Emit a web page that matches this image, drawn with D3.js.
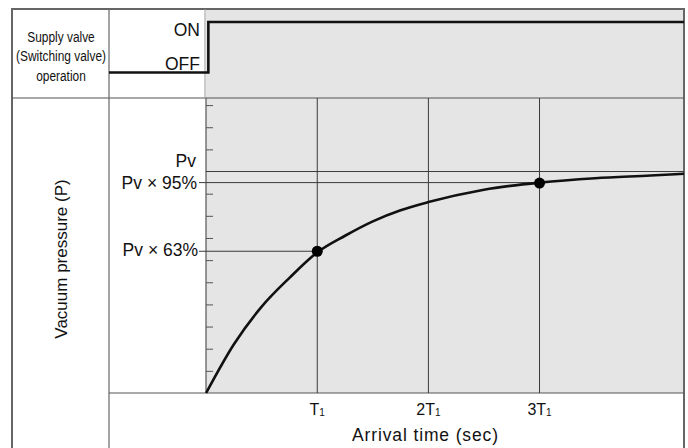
<!DOCTYPE html>
<html>
<head>
<meta charset="utf-8">
<script src="https://cdn.jsdelivr.net/npm/d3@7"></script>
<style>
  html, body { margin: 0; padding: 0; background: #fff; }
  svg { display: block; font-family: "Liberation Sans", Arial, Helvetica, sans-serif; }
</style>
</head>
<body>
<svg id="chart" width="688" height="448"></svg>
<script>
// ---------- data (time in units of T1, pressure as fraction of Pv) ----------
const curveTime     = [0, 0.25, 0.5, 0.75, 1, 1.25, 1.5, 1.75, 2, 2.5, 3, 3.5, 4, 4.3];
const curvePressure = [0, 0.22, 0.39, 0.52, 0.635, 0.71, 0.775, 0.825, 0.862, 0.918, 0.95, 0.97, 0.982, 0.99];

const stepTime   = [-0.874, 0.02, 0.02, 4.3];
const stepState  = ["OFF", "OFF", "ON", "ON"];
const stateNames = ["OFF", "ON"];

const refLevels  = [1.0, 0.95, 0.64];
const refLabels  = ["Pv", "Pv × 95%", "Pv × 63%"];
const refEndTime = [4.3, 3, 1];
const markerTime     = [1, 3];
const markerPressure = [0.64, 0.948];

const xGridTime  = [1, 2, 3];
const xTickMain  = ["T", "2T", "3T"];
const xTickSub   = ["1", "1", "1"];
const yTickVals  = [0.1, 0.2, 0.3, 0.4, 0.5, 0.6, 0.7, 0.8, 0.9, 1.1, 1.2, 1.3];

const headerLines = ["Supply valve", "(Switching valve)", "operation"];
const yTitle = "Vacuum pressure (P)";
const xTitle = "Arrival time (sec)";

// ---------- layout ----------
const svg = d3.select("#chart");
const L = 12, R = 684, T = 9;
const colX = 109;           // inner vertical divider
const axisX = 206;          // t = 0
const headY = 98;           // header / plot divider
const baseY = 393;          // pressure = 0

const x = d3.scaleLinear().domain([-0.874, 4.3]).range([colX, R]);
const y = d3.scaleLinear().domain([0, 1.332]).range([baseY, headY]);
const yState = d3.scalePoint().domain(stateNames).range([72.5, 22]);

const lineCol = "#3a3a3a";

// gray background
svg.append("rect").attr("x", axisX).attr("y", T)
  .attr("width", R - axisX).attr("height", baseY - T).attr("fill", "#e5e5e5");

// outer frame
svg.append("path").attr("d", `M${L},448 V${T} H${R} V448`)
  .attr("fill", "none").attr("stroke", "#666").attr("stroke-width", 2);

// dividers
svg.append("line").attr("x1", L).attr("x2", R).attr("y1", headY).attr("y2", headY)
  .attr("stroke", "#555").attr("stroke-width", 1.2);
svg.append("line").attr("x1", colX).attr("x2", colX).attr("y1", T).attr("y2", 448)
  .attr("stroke", "#666").attr("stroke-width", 1.2);
svg.append("line").attr("x1", axisX - 1).attr("x2", axisX - 1).attr("y1", T).attr("y2", headY)
  .attr("stroke", "#999").attr("stroke-width", 1);
svg.append("line").attr("x1", colX).attr("x2", R).attr("y1", baseY).attr("y2", baseY)
  .attr("stroke", "#555").attr("stroke-width", 1.2);

// y axis with small ticks
const yAxis = svg.append("g").attr("transform", `translate(${axisX},0)`)
  .call(d3.axisRight(y).tickValues(yTickVals).tickSize(7).tickFormat(""));
yAxis.select(".domain").attr("d", `M0,${headY}V${baseY}`).attr("stroke", "#555").attr("stroke-width", 1.2);
yAxis.selectAll(".tick line").attr("stroke", "#555").attr("stroke-width", 1);

// vertical grid lines at T1, 2T1, 3T1
svg.append("g").selectAll("line").data(xGridTime).join("line")
  .attr("x1", d => x(d)).attr("x2", d => x(d))
  .attr("y1", headY).attr("y2", baseY)
  .attr("stroke", lineCol).attr("stroke-width", 1);

// reference horizontal lines
const refStartX = [axisX, 199, 199];
refLevels.forEach((v, i) => {
  svg.append("line").attr("x1", refStartX[i]).attr("x2", x(refEndTime[i]))
    .attr("y1", y(v)).attr("y2", y(v))
    .attr("stroke", lineCol).attr("stroke-width", 1);
});

// reference labels
const refLabelBase = [166.5, 188.5, 256];
const refLabelEnd  = [196, 197, 198];
refLabels.forEach((t, i) => {
  svg.append("text")
    .attr("x", refLabelEnd[i]).attr("y", refLabelBase[i])
    .attr("text-anchor", "end").attr("font-size", 17.5).attr("fill", "#111").text(t);
});

// curve
const pts = curveTime.map((t, i) => [t, curvePressure[i]]);
svg.append("path").datum(pts)
  .attr("d", d3.line().x(d => x(d[0])).y(d => y(d[1])).curve(d3.curveMonotoneX))
  .attr("fill", "none").attr("stroke", "#111").attr("stroke-width", 2.6);

// markers
svg.append("g").selectAll("circle").data(markerTime).join("circle")
  .attr("cx", d => x(d)).attr("cy", (d, i) => y(markerPressure[i]))
  .attr("r", 5.5).attr("fill", "#000");

// step (valve operation)
const step = stepTime.map((t, i) => [t, stepState[i]]);
svg.append("path").datum(step)
  .attr("d", d3.line().x(d => x(d[0])).y(d => yState(d[1])))
  .attr("fill", "none").attr("stroke", "#111").attr("stroke-width", 2.6)
  .attr("stroke-linejoin", "miter");

// ON / OFF labels
svg.append("g").selectAll("text").data(stateNames).join("text")
  .attr("x", 200).attr("y", d => yState(d) + (d === "ON" ? 14 : -3))
  .attr("text-anchor", "end").attr("font-size", 17.5).attr("fill", "#111")
  .text(d => d);

// header text (condensed)
const headBase = [41.5, 61, 80.5];
headerLines.forEach((t, i) => {
  const tx = svg.append("text").attr("x", 61).attr("y", headBase[i])
    .attr("text-anchor", "middle").attr("font-size", 14).attr("fill", "#111").text(t);
  const w = tx.node().getComputedTextLength();
  tx.attr("textLength", w * 0.85).attr("lengthAdjust", "spacingAndGlyphs");
});

// y title
svg.append("text")
  .attr("transform", "translate(67,259) rotate(-90)")
  .attr("text-anchor", "middle").attr("font-size", 17).attr("fill", "#111")
  .text(yTitle);

// x tick labels with subscript
xGridTime.forEach((t, i) => {
  const tx = svg.append("text").attr("x", x(t)).attr("y", 414.5)
    .attr("text-anchor", "middle").attr("font-size", 16).attr("fill", "#111");
  tx.append("tspan").text(xTickMain[i]);
  tx.append("tspan").attr("font-size", 10).attr("dy", 1.5).text(xTickSub[i]);
});

// x title
svg.append("text").attr("x", 425).attr("y", 440.5)
  .attr("text-anchor", "middle").attr("font-size", 17.5).attr("fill", "#111")
  .attr("textLength", 146).attr("lengthAdjust", "spacing")
  .text(xTitle);
</script>
</body>
</html>
